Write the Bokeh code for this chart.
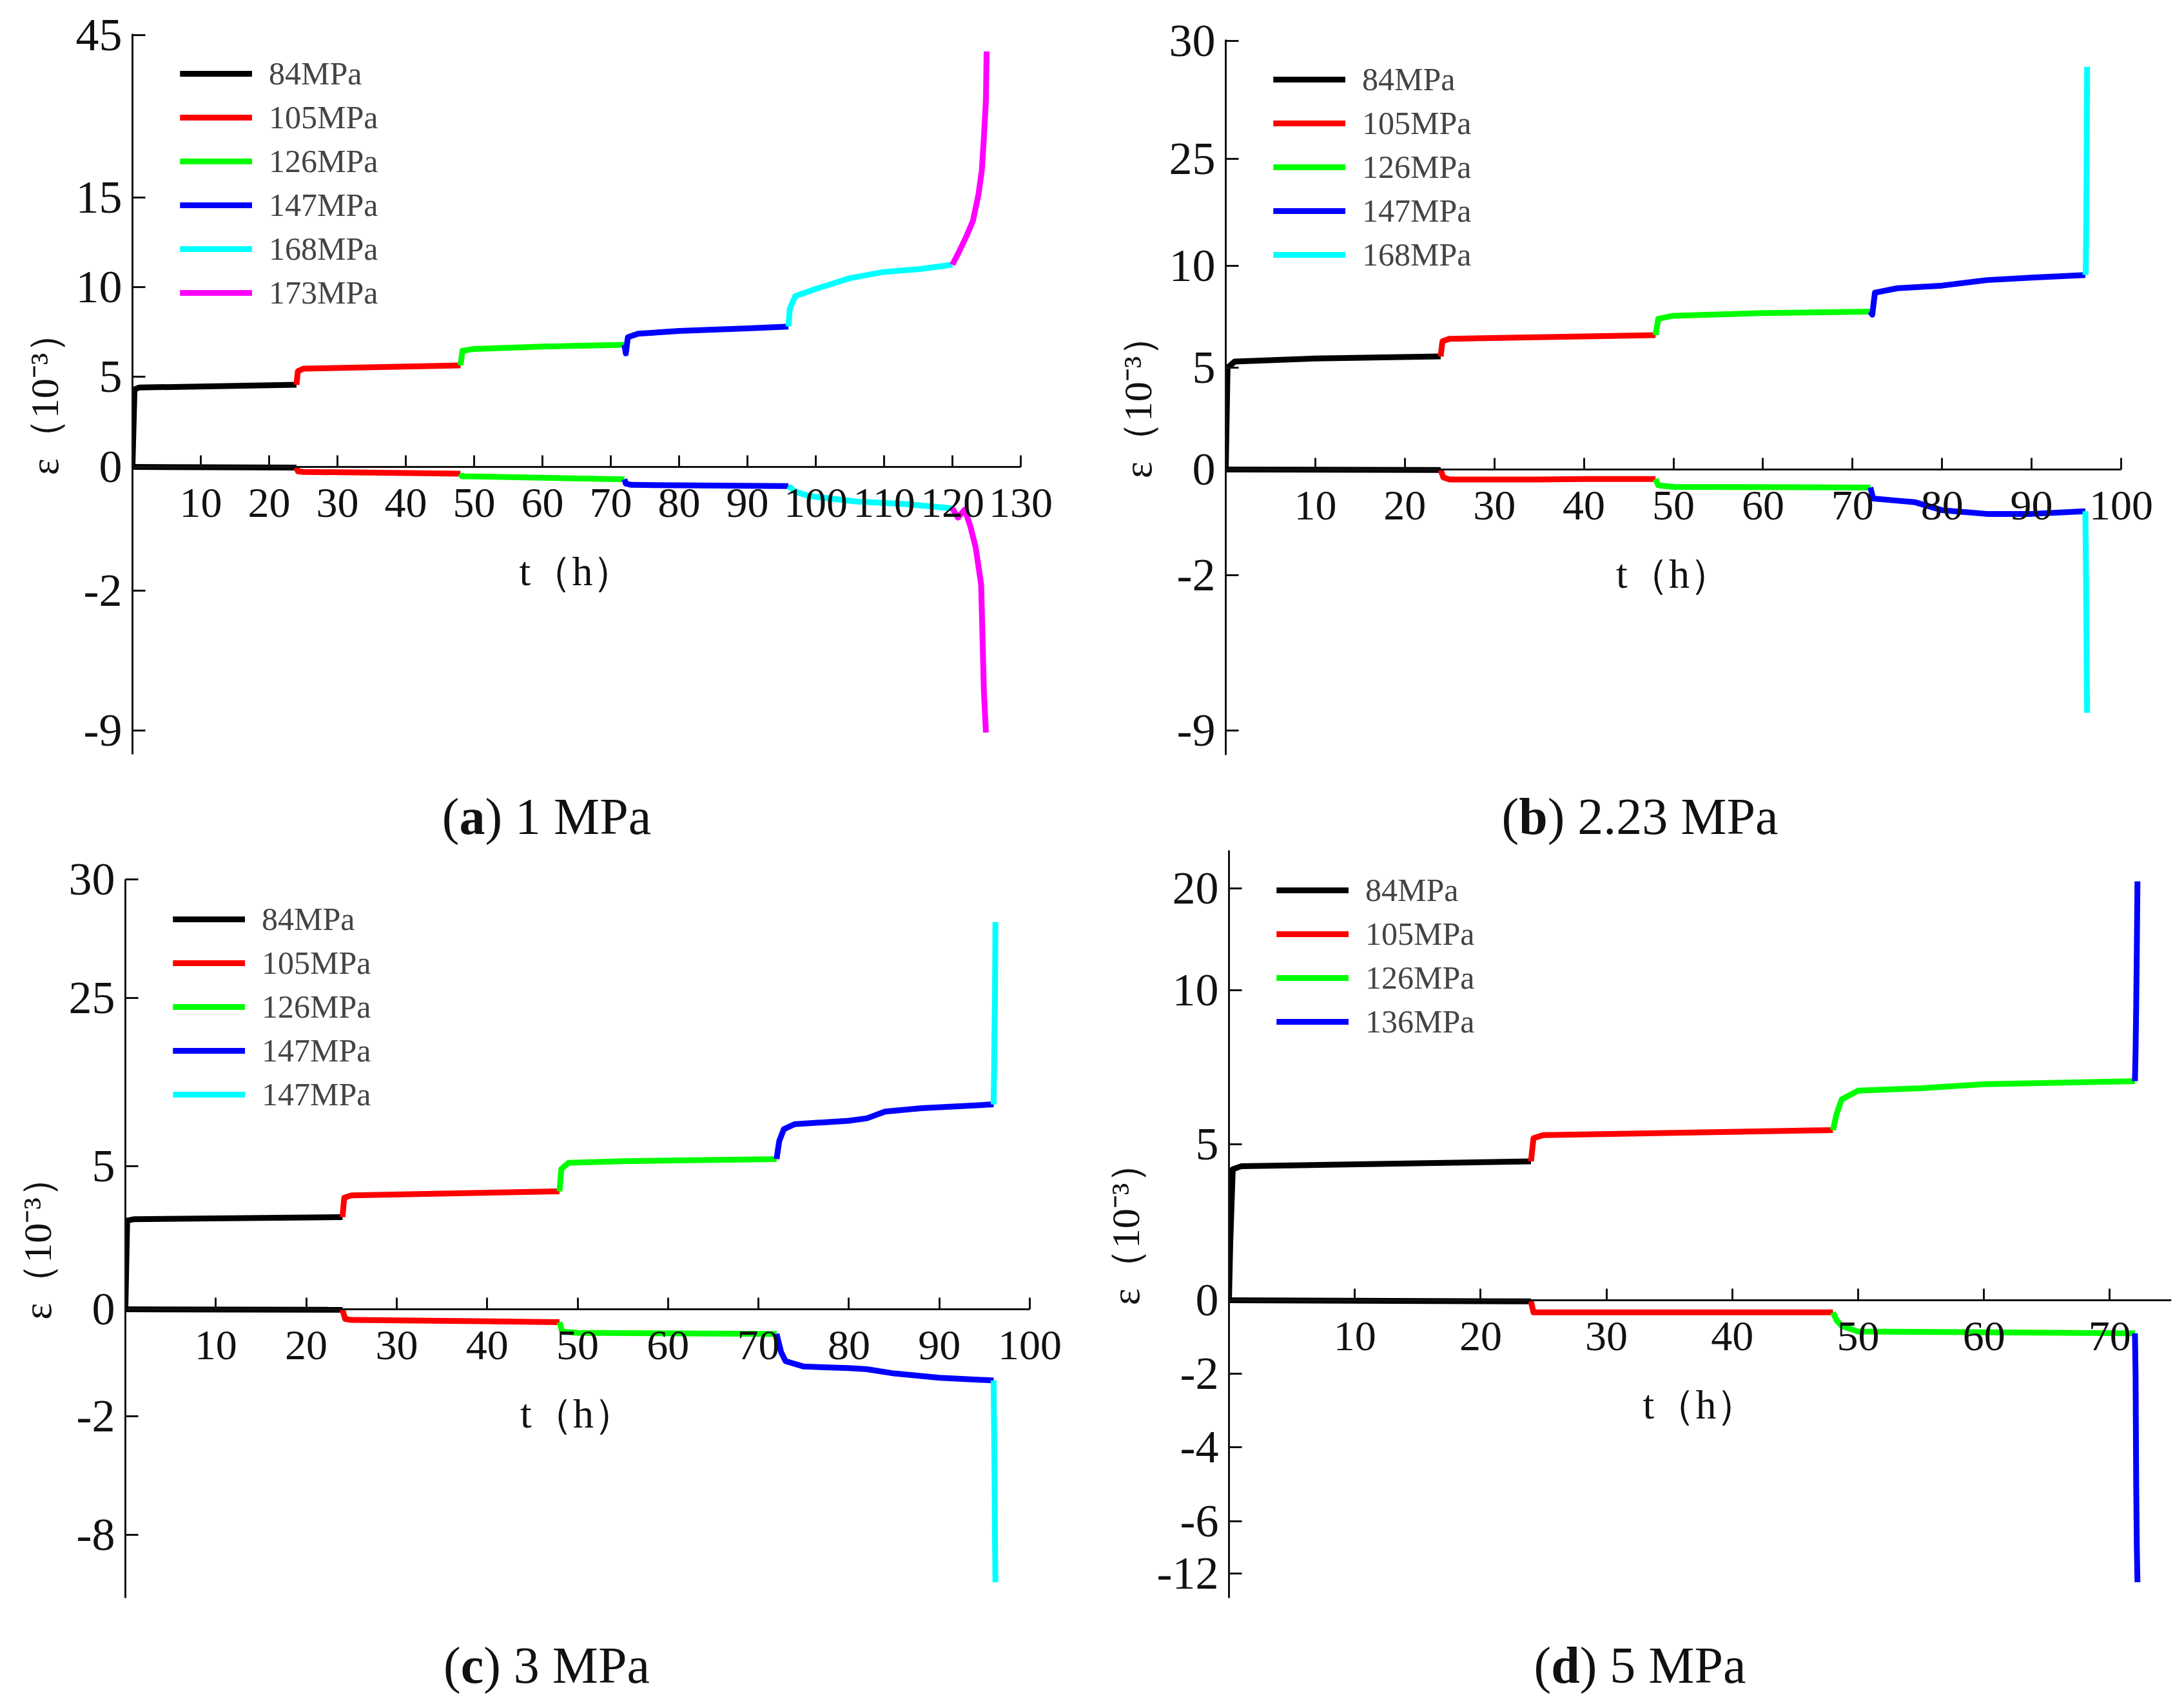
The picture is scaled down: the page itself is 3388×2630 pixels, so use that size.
import numpy as np
from bokeh.plotting import figure
from bokeh.models import Range1d, FixedTicker, Legend, LegendItem, Div
from bokeh.layouts import column, row
from bokeh.embed import file_html
from bokeh.resources import INLINE

COLORS = ["#000000", "#ff0000", "#00ff00", "#0000ff", "#00ffff", "#ff00ff"]
SERIF = "Liberation Serif"

# ---------------- (a) 1 MPa
A_LABELS = ["84MPa", "105MPa", "126MPa", "147MPa", "168MPa", "173MPa"]
A_STAGE_END = [24, 48, 72, 96, 120]
A_T_AX = [0, 0.3, 1, 24, 24.2, 25, 48, 48.3, 50, 60, 72, 72.2, 72.5, 74, 80, 90, 96,
          96.2, 97, 100, 105, 110, 115, 120, 121, 122, 123, 123.8, 124.3, 124.6, 124.9, 125]
A_EPS_AX = [0, 4.3, 4.4, 4.55, 5.3, 5.45, 5.63, 6.45, 6.55, 6.68, 6.78, 6.3, 7.2, 7.4, 7.55, 7.7, 7.8,
            8.8, 9.5, 9.9, 10.5, 10.85, 11.0, 11.25, 12.0, 12.8, 13.7, 15.5, 20, 26, 33, 42]
A_T_LAT = [0, 24, 24.2, 25, 48, 48.2, 72, 72.2, 73, 96, 97, 99, 106, 113, 120,
           120.8, 121.8, 122.6, 123.4, 124.2, 124.4, 124.6, 124.9]
A_EPS_LAT = [0, -0.01, -0.07, -0.08, -0.11, -0.15, -0.2, -0.27, -0.29, -0.31, -0.4, -0.47, -0.56, -0.6, -0.67,
             -0.82, -0.69, -0.95, -1.3, -1.9, -4.3, -7.0, -9.1]
A_YTICKS = [-9, -2, 0, 5, 10, 15, 45]
A_XTICKS = [10, 20, 30, 40, 50, 60, 70, 80, 90, 100, 110, 120, 130]

# ---------------- (b) 2.23 MPa
B_LABELS = ["84MPa", "105MPa", "126MPa", "147MPa", "168MPa"]
B_STAGE_END = [24, 48, 72, 96]
B_T_AX = [0, 0.2, 1, 10, 24, 24.2, 25, 48, 48.3, 50, 60, 72, 72.2, 72.5, 75, 80, 85, 90, 96,
          96.05, 96.1, 96.15, 96.2]
B_EPS_AX = [0, 5.0, 5.3, 5.45, 5.55, 6.3, 6.42, 6.6, 7.4, 7.55, 7.68, 7.75, 7.6, 8.68, 8.9, 9.03, 9.3, 9.42, 9.55,
            9.8, 15, 25, 28.9]
B_T_LAT = [0, 24, 24.3, 25, 35, 40, 48, 48.3, 50, 72, 72.3, 75, 77, 80, 85, 90, 96,
           96.05, 96.1, 96.15, 96.2]
B_EPS_LAT = [0, -0.01, -0.15, -0.19, -0.19, -0.18, -0.18, -0.3, -0.33, -0.34, -0.55, -0.59, -0.62, -0.77, -0.84,
             -0.84, -0.79, -1.5, -3.0, -6.0, -8.2]
B_YTICKS = [-9, -2, 0, 5, 10, 25, 30]
B_XTICKS = [10, 20, 30, 40, 50, 60, 70, 80, 90, 100]

# ---------------- (c) 3 MPa
C_LABELS = ["84MPa", "105MPa", "126MPa", "147MPa", "147MPa"]
C_STAGE_END = [24, 48, 72, 96]
C_T_AX = [0, 0.2, 1, 24, 24.2, 25, 48, 48.2, 49, 55, 72, 72.3, 72.8, 74, 80, 82, 84, 88, 96,
          96.05, 96.1, 96.15, 96.2]
C_EPS_AX = [0, 3.1, 3.15, 3.22, 3.9, 3.98, 4.12, 4.9, 5.4, 5.6, 5.85, 8.0, 9.4, 10.0, 10.4, 10.7, 11.5, 11.9, 12.35,
            16, 21.5, 24.5, 28.2]
C_T_LAT = [0, 24, 24.3, 25, 48, 48.3, 50, 72, 72.5, 73, 75, 80, 82, 85, 90, 96,
           96.05, 96.1, 96.15, 96.2]
C_EPS_LAT = [0, -0.01, -0.18, -0.2, -0.24, -0.42, -0.44, -0.46, -0.8, -0.97, -1.07, -1.1, -1.12, -1.2, -1.28, -1.33,
             -2.5, -5.0, -8.0, -10.4]
C_YTICKS = [-8, -2, 0, 5, 25, 30]
C_XTICKS = [10, 20, 30, 40, 50, 60, 70, 80, 90, 100]

# ---------------- (d) 5 MPa
D_LABELS = ["84MPa", "105MPa", "126MPa", "136MPa"]
D_STAGE_END = [24, 48, 72]
D_T_AX = [0, 0.1, 0.3, 1, 24, 24.2, 25, 48, 48.3, 48.7, 50, 55, 60, 72, 72.05, 72.1, 72.15, 72.2]
D_EPS_AX = [0, 1.8, 4.2, 4.3, 4.45, 5.2, 5.3, 5.46, 6.0, 6.46, 6.74, 6.82, 6.95, 7.05, 8.0, 9.5, 14, 20.7]
D_T_LAT = [0, 24, 24.2, 48, 48.3, 48.7, 50, 72, 72.05, 72.1, 72.15, 72.2]
D_EPS_LAT = [0, -0.03, -0.33, -0.33, -0.55, -0.7, -0.85, -0.9, -2.0, -5.0, -9.0, -13.0]
D_YTICKS = [-12, -6, -4, -2, 0, 5, 10, 20]
D_XTICKS = [10, 20, 30, 40, 50, 60, 70]

# layout of the broken y axes: screen height (px) of each tick above the zero line
A_YPX = [-409, -192, 0, 140, 279, 418, 670]
B_YPX = [-405, -164, 0, 158, 316, 482, 665]
C_YPX = [-350, -166, 0, 222, 483, 667]
D_YPX = [-424, -343, -228, -114, 0, 242, 481, 639]

QUAD_W = 1686
FIG_H = 1190


def to_px(vals, ticks, px):
    # piecewise-linear mapping of the broken axis, extrapolated past the end ticks
    vals = np.asarray(vals, dtype=float)
    out = np.interp(vals, ticks, px)
    lo = vals < ticks[0]
    hi = vals > ticks[-1]
    out[lo] = px[0] + (vals[lo] - ticks[0]) * (px[1] - px[0]) / (ticks[1] - ticks[0])
    out[hi] = px[-1] + (vals[hi] - ticks[-1]) * (px[-1] - px[-2]) / (ticks[-1] - ticks[-2])
    return out


def panel(labels, stage_end, t_ax, e_ax, t_lat, e_lat, yticks, ypx, xticks, x_end,
          y_lo, y_hi, left, top, axis_w, pad, caption_tag, caption):
    fh = y_hi - y_lo
    fw = axis_w + pad
    p = figure(frame_width=fw, frame_height=fh,
               min_border_left=left, min_border_right=QUAD_W - left - fw,
               min_border_top=top, min_border_bottom=FIG_H - top - fh,
               x_range=Range1d(0, x_end * fw / axis_w), y_range=Range1d(y_lo, y_hi),
               output_backend="svg", toolbar_location=None, tools="")
    p.outline_line_color = None
    p.grid.grid_line_color = None

    bounds = [0] + list(stage_end) + [np.inf]
    items = []
    for k, lab in enumerate(labels):
        rs = []
        for tt, ee in ((t_ax, e_ax), (t_lat, e_lat)):
            tt = np.asarray(tt, dtype=float)
            ee = np.asarray(ee, dtype=float)
            m = (tt >= bounds[k]) & (tt <= bounds[k + 1])
            rs.append(p.line(tt[m], to_px(ee[m], yticks, ypx), line_color=COLORS[k],
                             line_width=9, line_join="round"))
        items.append(LegendItem(label=lab, renderers=rs))

    n = len(labels)
    legend = Legend(items=items, location=(74, fh - 28 - n * 68),
                    glyph_width=112, glyph_height=68, label_height=68, spacing=0,
                    padding=0, margin=0, border_line_color=None, background_fill_alpha=0,
                    label_text_font=SERIF, label_text_font_size="50px", label_standoff=26)
    p.add_layout(legend)

    xa = p.xaxis[0]
    xa.fixed_location = 0
    xa.bounds = (0, x_end)
    xa.ticker = FixedTicker(ticks=xticks)
    xa.major_tick_in = 18
    xa.major_tick_out = 0
    xa.major_label_standoff = 34
    xa.axis_label = "t（h）"
    xa.axis_label_standoff = 46

    ya = p.yaxis[0]
    ya.ticker = FixedTicker(ticks=ypx)
    ya.major_label_overrides = {v: str(t) for v, t in zip(ypx, yticks)}
    ya.major_tick_in = 20
    ya.major_tick_out = 0
    ya.major_label_standoff = 16
    ya.axis_label = "ε（10⁻³）"
    ya.axis_label_standoff = 12

    for ax in (xa, ya):
        ax.minor_tick_line_color = None
        ax.axis_line_width = 3
        ax.major_tick_line_width = 3
        ax.axis_line_color = "#111111"
        ax.major_tick_line_color = "#111111"
        ax.major_label_text_font = SERIF
        ax.major_label_text_color = "#111111"
        ax.axis_label_text_font = SERIF
        ax.axis_label_text_font_style = "normal"
        ax.axis_label_text_color = "#111111"
    xa.major_label_text_font_size = "66px"
    ya.major_label_text_font_size = "72px"
    xa.axis_label_text_font_size = "64px"
    ya.axis_label_text_font_size = "62px"

    cap = Div(text=('<div style="width:%dpx;text-align:center;font-family:\'%s\';'
                    'font-size:80px;line-height:1;padding-top:32px;color:#111">'
                    '(<b>%s</b>) %s</div>') % (QUAD_W, SERIF, caption_tag, caption),
              width=QUAD_W, height=117)
    return column(p, cap)


pa = panel(A_LABELS, A_STAGE_END, A_T_AX, A_EPS_AX, A_T_LAT, A_EPS_LAT, A_YTICKS, A_YPX,
           A_XTICKS, 130, -446, 672, 205, 52, 1378, 60, "a", "1 MPa")
pb = panel(B_LABELS, B_STAGE_END, B_T_AX, B_EPS_AX, B_T_LAT, B_EPS_LAT, B_YTICKS, B_YPX,
           B_XTICKS, 100, -443, 667, 205, 61, 1389, 60, "b", "2.23 MPa")
pc = panel(C_LABELS, C_STAGE_END, C_T_AX, C_EPS_AX, C_T_LAT, C_EPS_LAT, C_YTICKS, C_YPX,
           C_XTICKS, 100, -448, 667, 194, 47, 1403, 60, "c", "3 MPa")
pd = panel(D_LABELS, D_STAGE_END, D_T_AX, D_EPS_AX, D_T_LAT, D_EPS_LAT, D_YTICKS, D_YPX,
           D_XTICKS, 74.9, -462, 698, 210, 2, 1462, 0, "d", "5 MPa")

layout = column(row(pa, pb), row(pc, pd))
open("out.html", "w").write(file_html(layout, INLINE))
